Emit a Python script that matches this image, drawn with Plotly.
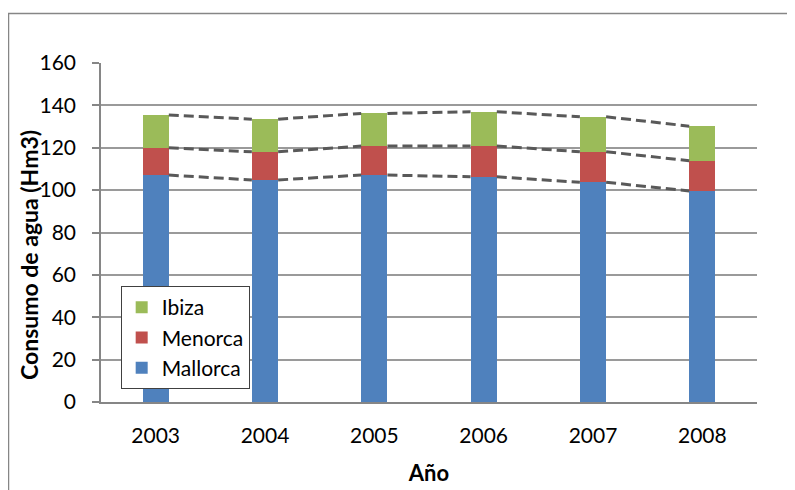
import plotly.graph_objects as go

years = ["2003", "2004", "2005", "2006", "2007", "2008"]
mallorca = [107.1, 104.8, 107.1, 106.3, 103.7, 99.6]
menorca = [12.9, 13.3, 13.7, 14.5, 14.4, 14.3]
ibiza = [15.4, 15.4, 15.4, 16.2, 16.5, 16.3]
y_ticks = [0, 20, 40, 60, 80, 100, 120, 140, 160]

BAR_W = 0.24
xs = list(range(len(years)))

fig = go.Figure()
colors = {"Mallorca": "#4F81BD", "Menorca": "#C0504D", "Ibiza": "#9BBB59"}
for name, vals in [("Mallorca", mallorca), ("Menorca", menorca), ("Ibiza", ibiza)]:
    fig.add_trace(go.Bar(x=xs, y=vals, name=name, width=BAR_W,
                         marker=dict(color=colors[name], line=dict(width=0))))

# series lines (cumulative tops), connecting bar edges
cum1 = mallorca
cum2 = [a + b for a, b in zip(mallorca, menorca)]
cum3 = [a + b + c for a, b, c in zip(mallorca, menorca, ibiza)]
for cum in (cum1, cum2, cum3):
    lx, ly = [], []
    for i in range(len(xs) - 1):
        lx += [xs[i] + BAR_W / 2, xs[i + 1] - BAR_W / 2, None]
        ly += [cum[i], cum[i + 1], None]
    fig.add_trace(go.Scatter(x=lx, y=ly, mode="lines", showlegend=False,
                             hoverinfo="skip",
                             line=dict(color="#595959", width=3, dash="10px,5px")))

font_family = "Lato, Open Sans, sans-serif"
fig.update_layout(
    width=787, height=482,
    margin=dict(l=93, r=38, t=55, b=88),
    paper_bgcolor="white", plot_bgcolor="white",
    barmode="stack",
    font=dict(family=font_family, size=21, color="#000000"),
    legend=dict(x=0.03, y=0.342, xanchor="left", yanchor="top",
                traceorder="reversed", bgcolor="white",
                bordercolor="#404040", borderwidth=1,
                font=dict(size=21)),
    xaxis=dict(range=[-0.5, 5.5], tickmode="array", tickvals=xs, ticktext=years,
               showline=True, linecolor="#868686", linewidth=1.5, automargin=False,
               showgrid=False, zeroline=False, ticks="", ticklabelstandoff=14,
               title=dict(text="<b>Año</b>", font=dict(size=22), standoff=20)),
    yaxis=dict(range=[0, 160], tickmode="array", tickvals=y_ticks, automargin=False,
               showline=True, linecolor="#868686", linewidth=1.5,
               showgrid=True, gridcolor="#9a9a9a", gridwidth=1.5,
               zeroline=False, ticks="outside", ticklen=7, tickcolor="#868686",
               tickwidth=1.5, ticklabelstandoff=12),
    annotations=[dict(text="<b>Consumo de agua (Hm3)</b>", xref="paper", yref="paper",
                      x=(29 - 101) / 656, y=(402 - 255) / 339, textangle=-90,
                      xanchor="center", yanchor="middle", showarrow=False,
                      font=dict(size=23, family=font_family, color="#000000"))],
    shapes=[dict(type="rect", xref="paper", yref="paper",
                 x0=(8.5 - 101) / 656, x1=1.2, y0=-0.5, y1=(402 - 13.5) / 339,
                 line=dict(color="#868686", width=1.5), fillcolor="rgba(0,0,0,0)",
                 layer="below")],
)

fig.write_html("out.html")
